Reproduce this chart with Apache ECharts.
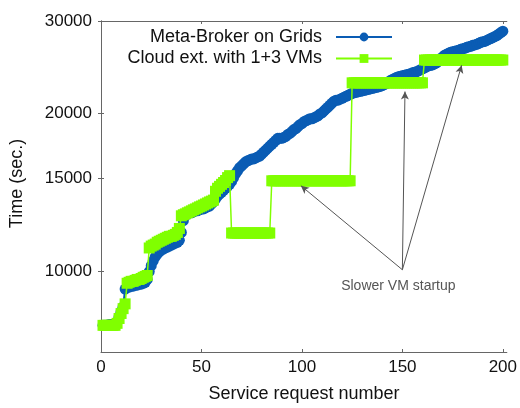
<!DOCTYPE html>
<html>
<head>
<meta charset="utf-8">
<script src="https://cdn.jsdelivr.net/npm/echarts@6/dist/echarts.min.js"></script>
<style>
  html, body { margin: 0; padding: 0; background: #fff; }
  #chart { width: 520px; height: 408px; }
</style>
</head>
<body>
<div id="chart"></div>
<script>
// Service request index (1..200)
const requests = Array.from({ length: 200 }, (_, i) => i + 1);

// Completion time (sec.) per request: meta-broker over grids
const metaBrokerTimes = [
  7870, 7870, 7870, 7900, 7900, 7900, 7940, 8000, 8180, 8360,
  8540, 9230, 9310, 9310, 9350, 9350, 9390, 9390, 9430, 9430,
  9470, 9510, 9630, 9970, 10230, 10450, 10640, 10770, 10870, 10960,
  11010, 11060, 11100, 11150, 11200, 11250, 11300, 11340, 11440, 11840,
  12470, 12740, 12850, 12910, 12910, 12960, 13020, 13020, 13080, 13130,
  13130, 13190, 13250, 13300, 13420, 13540, 13710, 13890, 14010, 14130,
  14250, 14380, 14500, 14630, 14820, 15070, 15340, 15530, 15740, 15870,
  16010, 16150, 16220, 16290, 16360, 16360, 16430, 16500, 16570, 16710,
  16860, 17000, 17150, 17300, 17450, 17600, 17750, 17910, 17910, 17910,
  17980, 18060, 18220, 18300, 18450, 18610, 18690, 18860, 19020, 19100,
  19270, 19350, 19430, 19520, 19520, 19600, 19690, 19770, 19940, 20030,
  20200, 20380, 20550, 20730, 20910, 21090, 21180, 21180, 21270, 21360,
  21460, 21550, 21640, 21730, 21830, 21880, 21920, 21970, 22020, 22060,
  22110, 22160, 22210, 22250, 22300, 22350, 22400, 22450, 22500, 22590,
  22690, 22790, 22940, 23090, 23190, 23290, 23390, 23490, 23540, 23590,
  23640, 23690, 23740, 23790, 23890, 23950, 24000, 24100, 24210, 24310,
  24410, 24520, 24630, 24680, 24730, 24840, 24950, 25160, 25380, 25600,
  25820, 25930, 26040, 26150, 26210, 26270, 26320, 26380, 26490, 26550,
  26610, 26720, 26780, 26840, 26960, 27010, 27070, 27190, 27310, 27370,
  27420, 27540, 27660, 27780, 27900, 28020, 28140, 28320, 28510, 28690
];

// Completion time (sec.) per request: cloud extension with 1+3 VMs
const cloudExtTimes = [
  7870, 7870, 7870, 7870, 7870, 7870, 7870, 7940, 8110, 8290,
  8470, 8650, 9470, 9510, 9550, 9550, 9590, 9630, 9630, 9670,
  9720, 9760, 9800, 11060, 11150, 11200, 11250, 11340, 11390, 11440,
  11490, 11540, 11590, 11640, 11640, 11690, 11740, 11840, 12050, 12740,
  12800, 12850, 12910, 12960, 13020, 13080, 13130, 13190, 13250, 13300,
  13360, 13420, 13480, 13540, 13590, 13650, 14190, 14380, 14500, 14630,
  14750, 14880, 15070, 15200, 11810, 11810, 11810, 11810, 11810, 11810,
  11810, 11810, 11810, 11810, 11810, 11810, 11810, 11810, 11810, 11810,
  11810, 11810, 11810, 11810, 14860, 14860, 14860, 14860, 14860, 14860,
  14860, 14860, 14860, 14860, 14860, 14860, 14860, 14860, 14860, 14860,
  14860, 14860, 14860, 14860, 14860, 14860, 14860, 14860, 14860, 14860,
  14860, 14860, 14860, 14860, 14860, 14860, 14860, 14860, 14860, 14860,
  14860, 14860, 14860, 14860, 22860, 22860, 22860, 22860, 22860, 22860,
  22860, 22860, 22860, 22860, 22860, 22860, 22860, 22860, 22860, 22860,
  22860, 22860, 22860, 22860, 22860, 22860, 22860, 22860, 22860, 22860,
  22860, 22860, 22860, 22860, 22860, 22860, 22860, 22860, 22860, 22860,
  25270, 25270, 25270, 25270, 25270, 25270, 25270, 25270, 25270, 25270,
  25270, 25270, 25270, 25270, 25270, 25270, 25270, 25270, 25270, 25270,
  25270, 25270, 25270, 25270, 25270, 25270, 25270, 25270, 25270, 25270,
  25270, 25270, 25270, 25270, 25270, 25270, 25270, 25270, 25270, 25270
];

const seriesNames = ['Meta-Broker on Grids', 'Cloud ext. with 1+3 VMs'];
const xTicks = [0, 50, 100, 150, 200];
const yTicks = [10000, 15000, 20000, 30000];

// "Slower VM startup" annotation: common origin and arrow targets
const noteText = 'Slower VM startup';
const noteAnchor = [148, 9360];
const arrowFrom = [150, 10050];
const arrowTargets = [[99.5, 14540], [151.3, 22000], [179.5, 24700]];

const FONT = '"Liberation Sans", Arial, Helvetica, sans-serif';
const BLUE = '#0a5cb4';
const GREEN = '#80ff00';
const AXIS = '#666';

const zip = (xs, ys) => xs.map((x, i) => [x, ys[i]]);
const plain = v => String(v);

const chart = echarts.init(document.getElementById('chart'), null, { renderer: 'canvas' });

const xBase = {
  type: 'value', min: 0, max: 202,
  splitLine: { show: false },
  axisLine: { show: true, lineStyle: { color: AXIS, width: 1 } },
  axisTick: { show: true, inside: true, length: 3, lineStyle: { color: AXIS }, customValues: xTicks }
};
const yBase = {
  type: 'log', logBase: 10, min: 7000, max: 30000,
  splitLine: { show: false },
  axisLine: { show: true, lineStyle: { color: AXIS, width: 1 } },
  axisTick: { show: true, inside: true, length: 3, lineStyle: { color: AXIS }, customValues: yTicks }
};

chart.setOption({
  animation: false,
  backgroundColor: '#fff',
  textStyle: { fontFamily: FONT },
  grid: { left: 100, right: 11, top: 21, bottom: 51, containLabel: false },
  legend: {
    data: seriesNames,
    orient: 'vertical',
    align: 'right',
    right: 122,
    top: 23,
    itemWidth: 56,
    itemHeight: 11,
    itemGap: 3.5,
    textStyle: { fontSize: 18, color: '#111', fontFamily: FONT, padding: [0, 9, 0, 0] }
  },
  xAxis: [
    Object.assign({}, xBase, {
      position: 'bottom',
      name: 'Service request number',
      nameLocation: 'middle',
      nameGap: 33,
      nameTextStyle: { fontSize: 18, color: '#111', fontFamily: FONT },
      axisLabel: { fontSize: 17, color: '#111', margin: 7, fontFamily: FONT, formatter: plain, customValues: xTicks }
    }),
    Object.assign({}, xBase, { position: 'top', axisLabel: { show: false } })
  ],
  yAxis: [
    Object.assign({}, yBase, {
      position: 'left',
      name: 'Time (sec.)',
      nameLocation: 'middle',
      nameGap: 75,
      nameTextStyle: { fontSize: 18, color: '#111', fontFamily: FONT, padding: [0, 0, 0, 6] },
      axisLabel: { fontSize: 17, color: '#111', margin: 9, fontFamily: FONT, formatter: plain, customValues: yTicks }
    }),
    Object.assign({}, yBase, { position: 'right', axisLabel: { show: false } })
  ],
  series: [
    {
      name: seriesNames[0],
      type: 'line',
      data: zip(requests, metaBrokerTimes),
      symbol: 'circle',
      symbolSize: 11,
      color: BLUE,
      lineStyle: { width: 2, color: BLUE },
      itemStyle: { color: BLUE },
      z: 2
    },
    {
      name: seriesNames[1],
      type: 'line',
      data: zip(requests, cloudExtTimes),
      symbol: 'rect',
      symbolSize: 11,
      color: GREEN,
      lineStyle: { width: 1.5, color: GREEN },
      itemStyle: { color: GREEN },
      z: 3
    },
    {
      name: 'annotation',
      type: 'line',
      data: [],
      silent: true,
      z: 4,
      markLine: {
        silent: true,
        symbol: ['none', 'arrow'],
        symbolSize: [6, 8],
        lineStyle: { color: '#555', width: 1, type: 'solid' },
        label: { show: false },
        data: arrowTargets.map(t => [{ coord: arrowFrom }, { coord: t }])
      },
      markPoint: {
        silent: true,
        symbol: 'circle',
        symbolSize: 0,
        label: {
          show: true, position: 'inside', formatter: noteText,
          fontSize: 14, color: '#555', fontFamily: FONT
        },
        data: [{ coord: noteAnchor }]
      }
    }
  ]
});
</script>
</body>
</html>
